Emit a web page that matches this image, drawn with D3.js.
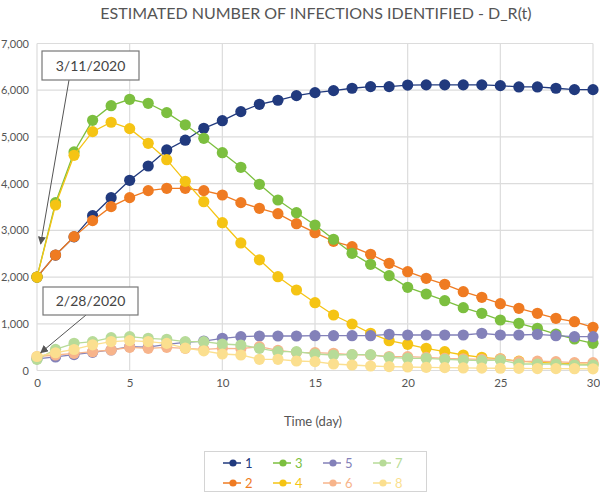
<!DOCTYPE html>
<html>
<head>
<meta charset="utf-8">
<script src="https://cdn.jsdelivr.net/npm/d3@7"></script>
<style>
  body { margin: 0; background: #fff; }
  svg { display: block; font-family: Lato, "Open Sans", sans-serif; }
</style>
</head>
<body>
<div id="chart"></div>
<script>
const days = [0,1,2,3,4,5,6,7,8,9,10,11,12,13,14,15,16,17,18,19,20,21,22,23,24,25,26,27,28,29,30];

const s1 = [2000,2470,2860,3314,3699,4072,4378,4721,4930,5185,5348,5541,5699,5785,5884,5948,5991,6042,6077,6077,6110,6115,6115,6115,6115,6098,6070,6070,6042,6012,6012];
const s2 = [2000,2473,2865,3208,3508,3700,3850,3900,3900,3850,3757,3593,3472,3357,3143,2950,2766,2650,2488,2295,2115,1974,1845,1687,1567,1430,1332,1224,1117,1045,925];
const s3 = [2000,3593,4678,5356,5669,5806,5720,5520,5260,4971,4663,4350,3986,3650,3378,3115,2809,2509,2273,2030,1781,1638,1494,1345,1224,1081,1010,903,781,674,582];
const s4 = [2000,3543,4607,5113,5314,5177,4864,4513,4050,3614,3164,2730,2370,2008,1723,1452,1188,995,796,638,561,475,403,332,283,250,200,175,160,140,130];
const s5 = [250,290,340,390,440,510,500,560,600,630,689,724,739,739,739,745,745,745,745,775,760,760,760,760,796,760,760,775,745,724,724];
const s6 = [300,332,368,403,439,497,475,497,475,453,475,470,510,430,390,382,368,340,330,300,296,280,260,250,240,250,190,200,190,168,168];
const s7 = [240,453,582,617,703,724,689,668,617,617,567,546,475,403,403,353,332,340,340,283,261,261,240,225,210,225,139,139,139,118,118];
const s8 = [300,380,450,550,620,640,620,580,480,420,353,332,240,240,203,190,139,118,96,85,75,68,62,55,50,48,45,42,40,38,36];

const seriesNames = ['1','2','3','4','5','6','7','8'];
const seriesValues = [s1, s2, s3, s4, s5, s6, s7, s8];
const colors = ['#213a7e','#ef7b22','#7cbf3f','#f5c414','#8381b9','#f7b48b','#b7db98','#fbdf8f'];

const yTicks = [0,1000,2000,3000,4000,5000,6000,7000];
const xTicks = [0,5,10,15,20,25,30];

const notes = [
  { label: '3/11/2020', day: 0.2, value: 2710 },
  { label: '2/28/2020', day: 0.2, value: 380 }
];

const width = 600, height = 499;
const margin = { top: 43.5, right: 7, bottom: 128.5, left: 37 };

const svg = d3.select('#chart').append('svg')
  .attr('width', width)
  .attr('height', height);

const x = d3.scaleLinear().domain([0, 30]).range([margin.left, width - margin.right]);
const y = d3.scaleLinear().domain([0, 7000]).range([height - margin.bottom, margin.top]);

// title
svg.append('text')
  .attr('x', 316)
  .attr('y', 19)
  .attr('text-anchor', 'middle')
  .attr('font-size', 16)
  .attr('fill', '#555')
  .text('ESTIMATED NUMBER OF INFECTIONS IDENTIFIED - D_R(t)');

// grid
const grid = svg.append('g');
grid.selectAll('line.h')
  .data(yTicks)
  .join('line')
  .attr('x1', x(0)).attr('x2', x(30))
  .attr('y1', d => y(d)).attr('y2', d => y(d))
  .attr('stroke', '#dcdcdc').attr('stroke-width', 1.2);
grid.selectAll('line.v')
  .data(xTicks)
  .join('line')
  .attr('y1', y(0)).attr('y2', y(7000))
  .attr('x1', d => x(d)).attr('x2', d => x(d))
  .attr('stroke', '#dcdcdc').attr('stroke-width', 1.2);

// axes (labels only)
const yAxis = svg.append('g')
  .attr('transform', `translate(${margin.left - 8},0)`)
  .call(d3.axisLeft(y).tickValues(yTicks).tickSize(0).tickPadding(0).tickFormat(d3.format(',')));
yAxis.select('.domain').remove();
yAxis.selectAll('text').attr('font-size', 11).attr('fill', '#555').attr('font-family', 'Lato, sans-serif');

const xAxis = svg.append('g')
  .attr('transform', `translate(0,${y(0) + 5})`)
  .call(d3.axisBottom(x).tickValues(xTicks).tickSize(0).tickPadding(3));
xAxis.select('.domain').remove();
xAxis.selectAll('text').attr('font-size', 11.5).attr('fill', '#555').attr('font-family', 'Lato, sans-serif');

svg.append('text')
  .attr('x', 313)
  .attr('y', 426)
  .attr('text-anchor', 'middle')
  .attr('font-size', 13)
  .attr('fill', '#555')
  .text('Time (day)');

// series
const line = d3.line().x((d, i) => x(days[i])).y(d => y(d));
seriesValues.forEach((vals, k) => {
  const g = svg.append('g');
  g.append('path')
    .datum(vals)
    .attr('d', line)
    .attr('fill', 'none')
    .attr('stroke', colors[k])
    .attr('stroke-width', 1.3);
  g.selectAll('circle')
    .data(vals)
    .join('circle')
    .attr('cx', (d, i) => x(days[i]))
    .attr('cy', d => y(d))
    .attr('r', 5.6)
    .attr('fill', colors[k]);
});

// annotations
const defs = svg.append('defs');
defs.append('marker')
  .attr('id', 'arrow')
  .attr('viewBox', '0 0 10 10')
  .attr('refX', 9).attr('refY', 5)
  .attr('markerWidth', 8).attr('markerHeight', 8)
  .attr('orient', 'auto')
  .append('path')
  .attr('d', 'M0,0 L10,5 L0,10 z')
  .attr('fill', '#555');

const boxes = [
  { x: 42, y: 51, w: 97, h: 29, lx: 69, ly: 80 },
  { x: 43, y: 287, w: 95, h: 28, lx: 86, ly: 315 }
];
notes.forEach((n, i) => {
  const b = boxes[i];
  svg.append('line')
    .attr('x1', b.lx).attr('y1', b.ly)
    .attr('x2', x(n.day)).attr('y2', y(n.value))
    .attr('stroke', '#555').attr('stroke-width', 1)
    .attr('marker-end', 'url(#arrow)');
  svg.append('rect')
    .attr('x', b.x).attr('y', b.y)
    .attr('width', b.w).attr('height', b.h)
    .attr('fill', '#fff')
    .attr('stroke', '#777').attr('stroke-width', 1.2);
  svg.append('text')
    .attr('x', b.x + b.w / 2)
    .attr('y', b.y + b.h / 2 + 5)
    .attr('text-anchor', 'middle')
    .attr('font-size', 14)
    .attr('fill', '#444')
    .text(n.label);
});

// legend
svg.append('rect')
  .attr('x', 204.5).attr('y', 451.5)
  .attr('width', 222).attr('height', 40)
  .attr('fill', '#fff')
  .attr('stroke', '#d4d4d4').attr('stroke-width', 1);

const legend = svg.append('g');
seriesNames.forEach((name, k) => {
  const col = Math.floor(k / 2);
  const row = k % 2;
  const cx = 233 + col * 50;
  const cy = 463 + row * 20;
  const item = legend.append('g');
  item.append('line')
    .attr('x1', cx - 10).attr('x2', cx + 8)
    .attr('y1', cy).attr('y2', cy)
    .attr('stroke', colors[k]).attr('stroke-width', 1.5);
  item.append('circle')
    .attr('cx', cx).attr('cy', cy).attr('r', 3.6)
    .attr('fill', colors[k]);
  item.append('text')
    .attr('x', cx + 12).attr('y', cy + 4.5)
    .attr('font-size', 13)
    .attr('fill', colors[k])
    .text(name);
});
</script>
</body>
</html>
